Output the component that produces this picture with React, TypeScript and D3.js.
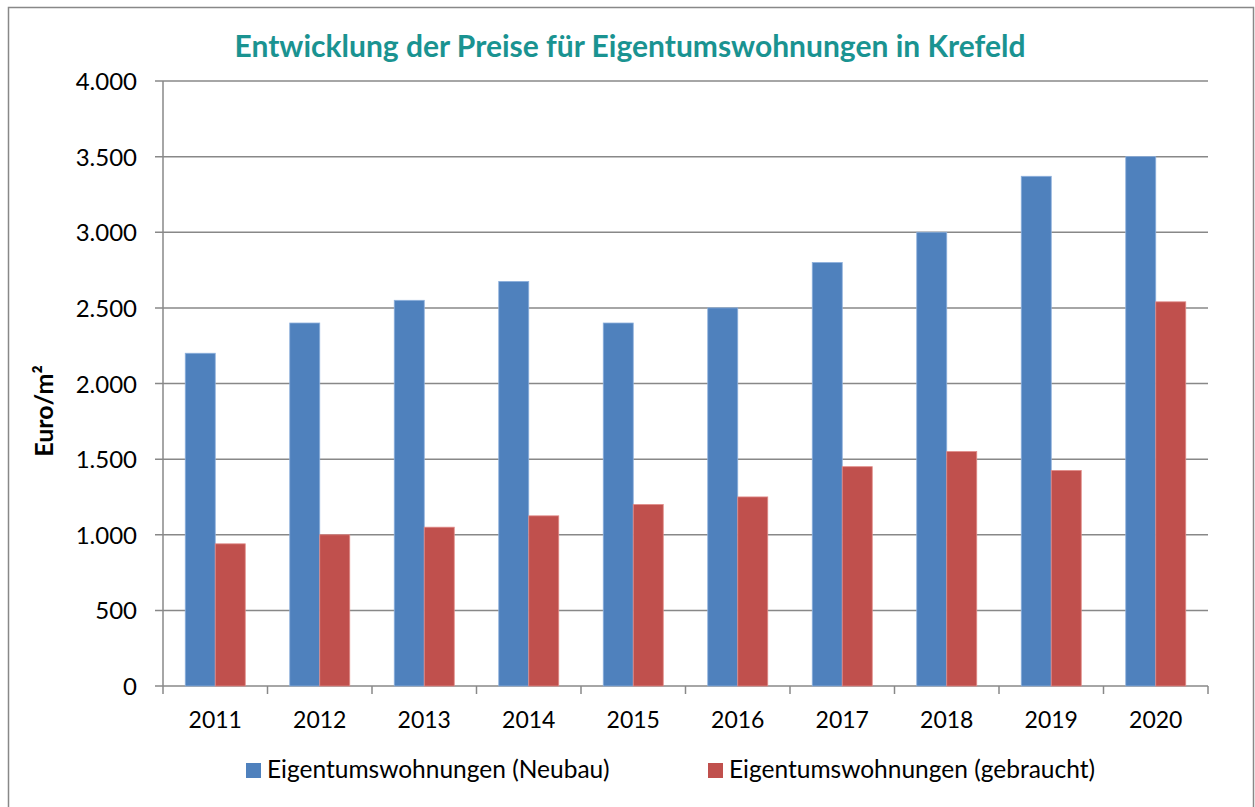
import React from "react";
import * as d3 from "d3";

const years = ["2011", "2012", "2013", "2014", "2015", "2016", "2017", "2018", "2019", "2020"];
const neubau = [2200, 2400, 2550, 2675, 2400, 2500, 2800, 3000, 3370, 3500];
const gebraucht = [940, 1000, 1050, 1125, 1200, 1250, 1450, 1550, 1425, 2540];
const seriesNames = ["Eigentumswohnungen (Neubau)", "Eigentumswohnungen (gebraucht)"];
const colors = ["#4F81BD", "#C0504D"];
const yTicks = [0, 500, 1000, 1500, 2000, 2500, 3000, 3500, 4000];

const font = "Lato, 'Open Sans', sans-serif";

export default function App() {
  const width = 1255;
  const height = 807;
  const left = 163;
  const right = 1208;
  const top = 81;
  const bottom = 686;

  const x = d3.scaleBand().domain(years).range([left, right]).paddingInner(0).paddingOuter(0);
  const y = d3.scaleLinear().domain([0, 4000]).range([bottom, top]);
  const barW = 30;
  const fmt = (v: number) => d3.format(",")(v).replace(/,/g, ".");
  const series = [neubau, gebraucht];

  return (
    <svg width={width} height={height} style={{ position: "absolute", left: 0, top: 0 }}>
      <rect x={8.5} y={7.5} width={1245} height={810} fill="#fff" stroke="#888" strokeWidth={1.5} />
      <text x={630} y={57} textAnchor="middle" fontFamily={font} fontWeight="bold" fontSize={30} fill="#1A9391">
        Entwicklung der Preise für Eigentumswohnungen in Krefeld
      </text>

      {yTicks.map((t) => (
        <g key={t}>
          <line x1={left - 8} x2={right} y1={y(t)} y2={y(t)} stroke="#888" strokeWidth={1.5} />
          <text x={137} y={y(t) + 9} textAnchor="end" fontFamily={font} fontSize={24} fill="#000">
            {fmt(t)}
          </text>
        </g>
      ))}
      <line x1={left} x2={left} y1={top} y2={bottom + 8} stroke="#888" strokeWidth={1.5} />
      {years.map((yr) => (
        <line key={"t" + yr} x1={x(yr)! + x.bandwidth()} x2={x(yr)! + x.bandwidth()} y1={bottom} y2={bottom + 8} stroke="#888" strokeWidth={1.5} />
      ))}

      {years.map((yr, i) => {
        const cx = x(yr)! + x.bandwidth() / 2;
        return (
          <g key={yr}>
            {series.map((s, k) => (
              <rect
                key={k}
                x={cx - barW + k * barW}
                y={y(s[i])}
                width={barW}
                height={bottom - y(s[i])}
                fill={colors[k]}
                stroke={k === 0 ? "#8DB0DC" : "#E08A88"}
                strokeWidth={0.8}
              />
            ))}
            <text x={cx} y={728} textAnchor="middle" fontFamily={font} fontSize={23} fill="#000">
              {yr}
            </text>
          </g>
        );
      })}

      <text transform="translate(53,411) rotate(-90)" textAnchor="middle" fontFamily={font} fontWeight="bold" fontSize={25} fill="#000">
        Euro/m²
      </text>

      {seriesNames.map((n, k) => {
        const lx = k === 0 ? 246 : 708;
        return (
          <g key={n}>
            <rect x={lx} y={763} width={15} height={15} fill={colors[k]} />
            <text x={lx + 21} y={778} fontFamily={font} fontSize={24.5} fill="#000">
              {n}
            </text>
          </g>
        );
      })}
    </svg>
  );
}
